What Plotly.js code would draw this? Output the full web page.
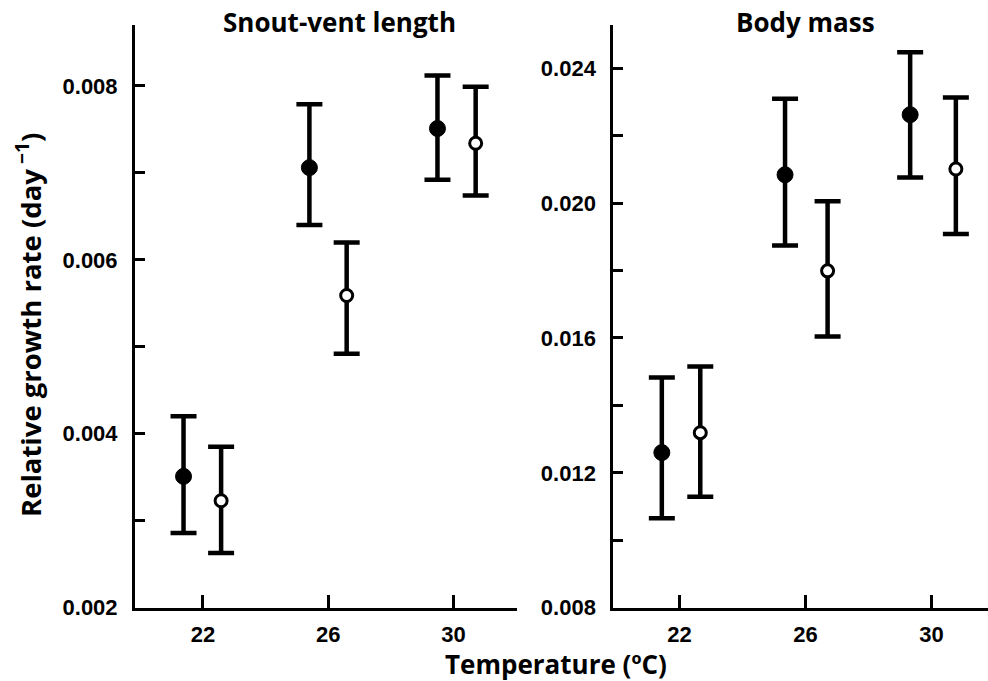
<!DOCTYPE html>
<html>
<head>
<meta charset="utf-8">
<script src="https://cdn.plot.ly/plotly-3.0.1.min.js"></script>
<style>html,body{margin:0;padding:0;background:#fff;}#chart{width:988px;height:681px;}</style>
</head>
<body>
<div id="chart"></div>
<script>
// Temperature positions (°C, slightly offset per group)
const svlFilledX = [21.38, 25.40, 29.49];
const svlOpenX   = [22.58, 26.59, 30.71];
const bmFilledX  = [21.44, 25.35, 29.32];
const bmOpenX    = [22.66, 26.70, 30.77];

// Snout-vent length relative growth rate (day^-1)
const svlFilledMean  = [0.00351, 0.00706, 0.00751];
const svlFilledUpper = [0.00420, 0.00779, 0.00812];
const svlFilledLower = [0.00286, 0.00640, 0.00692];
const svlOpenMean    = [0.00323, 0.00559, 0.00734];
const svlOpenUpper   = [0.00385, 0.00620, 0.00799];
const svlOpenLower   = [0.00263, 0.00492, 0.00674];

// Body mass relative growth rate (day^-1)
const bmFilledMean  = [0.01260, 0.02084, 0.02262];
const bmFilledUpper = [0.01483, 0.02309, 0.02447];
const bmFilledLower = [0.01065, 0.01874, 0.02076];
const bmOpenMean    = [0.01319, 0.01799, 0.02101];
const bmOpenUpper   = [0.01515, 0.02005, 0.02313];
const bmOpenLower   = [0.01129, 0.01604, 0.01908];

const xTickVals = [22, 26, 30];

function errBar(mean, upper, lower) {
  return {
    type: 'data', symmetric: false,
    array: upper.map((u, i) => u - mean[i]),
    arrayminus: mean.map((m, i) => m - lower[i]),
    color: '#000', thickness: 4.5, width: 13
  };
}
function trace(x, mean, upper, lower, filled, xa, ya) {
  return {
    type: 'scatter', mode: 'markers', x: x, y: mean, xaxis: xa, yaxis: ya,
    error_y: errBar(mean, upper, lower),
    marker: filled
      ? {symbol: 'circle', size: 16, color: '#000', line: {color: '#000', width: 1}}
      : {symbol: 'circle', size: 12, color: '#fff', line: {color: '#000', width: 3}},
    showlegend: false, hoverinfo: 'skip'
  };
}

const data = [
  trace(svlFilledX, svlFilledMean, svlFilledUpper, svlFilledLower, true, 'x', 'y'),
  trace(svlOpenX, svlOpenMean, svlOpenUpper, svlOpenLower, false, 'x', 'y'),
  trace(bmFilledX, bmFilledMean, bmFilledUpper, bmFilledLower, true, 'x2', 'y2'),
  trace(bmOpenX, bmOpenMean, bmOpenUpper, bmOpenLower, false, 'x2', 'y2')
];

const tickFont = {family: 'Liberation Sans, Arial, sans-serif', size: 22, color: '#000', weight: 'bold'};
const titleFont = {family: 'Open Sans, sans-serif', size: 26, color: '#000', weight: 'bold'};
const yTitleFont = {family: 'Open Sans, sans-serif', size: 27.5, color: '#000', weight: 'bold'};

function xAxis(domain, range, anchor) {
  return {
    domain: domain, range: range, anchor: anchor,
    showline: true, linecolor: '#000', linewidth: 3,
    showgrid: false, zeroline: false,
    tickmode: 'array', tickvals: xTickVals, ticktext: xTickVals.map(String),
    ticks: 'inside', ticklen: 13, tickwidth: 3, tickcolor: '#000',
    tickfont: tickFont, ticklabelstandoff: 5, fixedrange: true
  };
}
function yAxis(domain, range, anchor, dtick, minor) {
  return {
    domain: domain, range: range, anchor: anchor,
    showline: true, linecolor: '#000', linewidth: 3,
    showgrid: false, zeroline: false,
    tick0: range[0], dtick: dtick, tickformat: '.3f',
    ticks: 'inside', ticklen: 10, tickwidth: 3, tickcolor: '#000',
    minor: {dtick: minor, tick0: range[0], ticks: 'inside', ticklen: 10, tickwidth: 3, tickcolor: '#000', showgrid: false},
    tickfont: tickFont, ticklabelstandoff: 10, fixedrange: true
  };
}

const layout = {
  width: 988, height: 681,
  margin: {l: 0, r: 0, t: 0, b: 0},
  paper_bgcolor: '#fff', plot_bgcolor: '#fff',
  showlegend: false,
  xaxis: xAxis([135/988, 517/988], [19.83, 32.03], 'y'),
  yaxis: yAxis([(681-607.7)/681, (681-25)/681], [0.002, 0.0087], 'x', 0.002, 0.001),
  xaxis2: xAxis([613.3/988, 1], [19.9, 31.79], 'y2'),
  yaxis2: yAxis([(681-607.7)/681, (681-25)/681], [0.008, 0.02528], 'x2', 0.004, 0.002),
  annotations: [
    {text: 'Snout-vent length', x: 339/988, y: 1 - 22/681, xref: 'paper', yref: 'paper',
     xanchor: 'center', yanchor: 'middle', showarrow: false, font: titleFont},
    {text: 'Body mass', x: 805/988, y: 1 - 22/681, xref: 'paper', yref: 'paper',
     xanchor: 'center', yanchor: 'middle', showarrow: false, font: titleFont},
    {text: 'Temperature (ºC)', x: 556/988, y: 1 - 664/681, xref: 'paper', yref: 'paper',
     xanchor: 'center', yanchor: 'middle', showarrow: false, font: titleFont},
    {text: 'Relative growth rate (day<sup> −1</sup>)', x: 29/988, y: 1 - 325/681, xref: 'paper', yref: 'paper',
     xanchor: 'center', yanchor: 'middle', textangle: -90, showarrow: false, font: yTitleFont}
  ]
};

Plotly.newPlot('chart', data, layout, {displayModeBar: false, staticPlot: true});
</script>
</body>
</html>
